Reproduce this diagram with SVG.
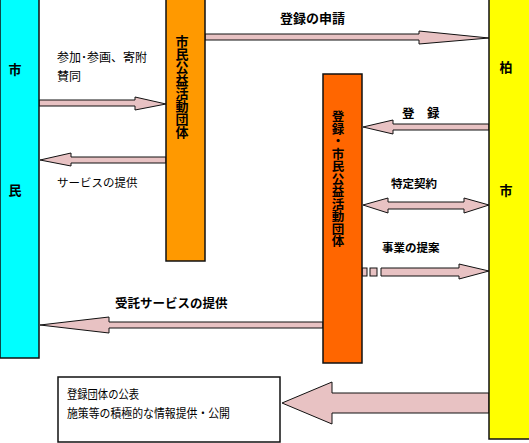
<svg xmlns="http://www.w3.org/2000/svg" width="529" height="443" viewBox="0 0 529 443">
<style>
.box{stroke:#111;stroke-width:1.5}
.arr{fill:#e8c2c3;stroke:#111;stroke-width:1}
text{font-family:"Noto Sans CJK JP","Noto Sans CJK SC",sans-serif;fill:#000}
.b{font-weight:bold}
.lbl{font-size:12px}
.vt{font-size:13px;font-weight:bold;writing-mode:vertical-rl;text-orientation:upright}
</style>
<rect width="529" height="443" fill="#fff"/>
<g id="connectors">
<polygon class="arr" points="39,100 135,100 135,97 166,104 135,110 135,106 39,106"/>
<polygon class="arr" points="166,157 71,157 71,153 40,160 71,166 71,163 166,163"/>
<polygon class="arr" points="205,34 419,34 419,31 489,38 419,44 419,40 205,40"/>
<polygon class="arr" points="489,124 393,124 393,120 363,127 393,134 393,130 489,130"/>
<polygon class="arr" points="363,205 388,198 388,202 464,202 464,198 489,205 464,213 464,209 388,209 388,213"/>
<rect class="arr" x="362" y="268" width="5" height="8"/>
<rect class="arr" x="370" y="268" width="7" height="8"/>
<polygon class="arr" points="381,268 459,268 459,264 489,271 459,279 459,276 381,276"/>
<polygon class="arr" points="323,322 109,322 109,317 40,325 109,333 109,328 323,328"/>
<polygon class="arr" points="489,393 332,393 332,382 282,403 332,424 332,413 489,413"/>
</g>
<g id="citizen">
<rect class="box" x="0" y="-2" width="39" height="360" fill="#00ffff"/>
<text class="b" x="15" y="74" font-size="13" text-anchor="middle">市</text>
<text class="b" x="15" y="195" font-size="13" text-anchor="middle">民</text>
</g>
<g id="org">
<rect class="box" x="166" y="-2" width="39" height="263" fill="#ff9900"/>
<text class="vt" x="182" y="35">市民公益活動団体</text>
</g>
<g id="regorg">
<rect class="box" x="323" y="74" width="39" height="289" fill="#ff6600"/>
<text class="vt" x="338" y="110" style="font-size:12.5px">登録・市民公益活動団体</text>
</g>
<g id="city">
<rect class="box" x="489" y="-2" width="42" height="441" fill="#ffff00"/>
<text class="b" x="506" y="72" font-size="13" text-anchor="middle">柏</text>
<text class="b" x="506" y="195" font-size="13" text-anchor="middle">市</text>
</g>
<g id="publish">
<rect class="box" x="58" y="377" width="222" height="65" fill="#fff"/>
<text x="67" y="399" font-size="12" textLength="72" lengthAdjust="spacingAndGlyphs">登録団体の公表</text>
<text x="67" y="418" font-size="12" textLength="163" lengthAdjust="spacingAndGlyphs">施策等の積極的な情報提供・公開</text>
</g>
<g id="labels">
<text class="lbl" x="57" y="62" textLength="90" lengthAdjust="spacingAndGlyphs">参加･参画、寄附</text>
<text class="lbl" x="57" y="81">賛同</text>
<text x="57" y="187" font-size="11.5">サービスの提供</text>
<text class="b" x="280" y="23" font-size="13">登録の申請</text>
<text class="b" x="402" y="118" font-size="12.5">登　録</text>
<text class="b" x="391" y="188" font-size="11.5">特定契約</text>
<text class="b" x="382" y="252" font-size="11.5">事業の提案</text>
<text class="b" x="115" y="308" font-size="12.5">受託サービスの提供</text>
</g>
</svg>
